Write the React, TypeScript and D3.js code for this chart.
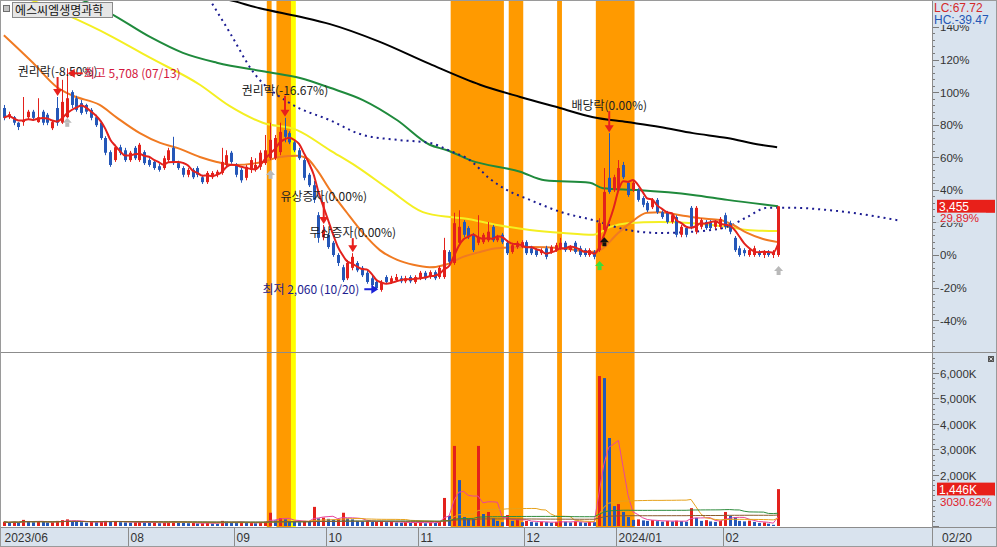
import React from 'react';
import * as d3 from 'd3';

const stockName = '에스씨엠생명과학';
const basePrice = 2660;
const lcValue = 67.72;
const hcValue = -39.47;
const highDate = '07/13';
const lowDate = '10/20';
const lastDate = '02/20';

// daily candles [open, high, low, close], 2023/06/26 .. 2024/02/20
const ohlc: [number, number, number, number][] = [
  [5060, 5110, 4860, 4900], [4910, 5000, 4880, 4960], [4910, 4930, 4780, 4820], [4820, 4830, 4700, 4750],
  [4830, 5240, 4770, 4860], [4910, 5030, 4880, 5000], [5000, 5030, 4850, 4900], [4830, 5220, 4820, 4910],
  [5000, 5030, 4780, 4820], [4950, 4980, 4780, 4820], [4730, 4860, 4700, 4830], [5060, 5240, 4770, 4820],
  [4820, 5520, 4800, 5160], [4910, 5708, 4900, 5220], [5320, 5350, 5060, 5110], [5220, 5260, 5000, 5030],
  [5140, 5190, 4950, 4980], [5110, 5130, 4960, 5000], [5030, 5060, 4860, 4900], [4910, 4950, 4750, 4780],
  [4820, 4850, 4540, 4570], [4570, 4600, 4290, 4330], [4340, 4370, 4100, 4130], [4210, 4460, 4180, 4420],
  [4420, 4460, 4290, 4330], [4370, 4410, 4180, 4210], [4210, 4360, 4180, 4330], [4410, 4440, 4210, 4240],
  [4210, 4490, 4180, 4460], [4340, 4370, 4130, 4160], [4210, 4240, 4100, 4130], [4180, 4210, 4050, 4080],
  [4110, 4150, 4020, 4050], [4080, 4280, 4050, 4240], [4210, 4410, 4180, 4370], [4410, 4590, 4130, 4160],
  [4160, 4200, 4050, 4080], [4080, 4110, 3930, 3970], [3970, 4080, 3930, 4050], [4050, 4080, 3900, 3930],
  [4080, 4110, 3930, 3970], [3930, 3970, 3820, 3850], [3850, 4030, 3820, 4000], [3930, 4030, 3900, 4000],
  [3970, 4050, 3930, 4020], [4000, 4410, 3970, 4180], [4130, 4370, 4100, 4290], [4330, 4360, 4150, 4180],
  [4130, 4160, 3930, 3970], [4050, 4080, 3840, 3880], [3920, 4130, 3880, 4100], [4050, 4260, 4000, 4210],
  [4050, 4240, 4020, 4130], [4100, 4370, 4050, 4330], [4160, 4620, 4130, 4370], [4240, 4820, 4210, 4540],
  [4240, 4620, 4210, 4570], [4340, 4820, 4290, 4670], [4700, 4900, 4500, 4590], [4650, 4680, 4470, 4500],
  [4500, 4540, 4340, 4370], [4370, 4410, 4210, 4240], [4210, 4240, 3880, 3920], [3970, 4000, 3770, 3800],
  [3800, 3870, 3510, 3560], [3310, 3360, 2860, 2940], [2950, 3150, 2900, 3070], [2990, 3020, 2760, 2790],
  [2860, 2890, 2630, 2660], [2660, 2690, 2480, 2530], [2460, 2500, 2220, 2250], [2280, 2580, 2250, 2530],
  [2450, 2690, 2410, 2630], [2530, 2560, 2380, 2410], [2450, 2480, 2300, 2330], [2370, 2400, 2190, 2220],
  [2280, 2320, 2140, 2170], [2220, 2250, 2090, 2120], [2090, 2250, 2060, 2220], [2300, 2330, 2190, 2220],
  [2220, 2320, 2190, 2280], [2250, 2350, 2220, 2300], [2280, 2320, 2200, 2230], [2230, 2320, 2200, 2280],
  [2300, 2330, 2200, 2230], [2220, 2330, 2190, 2300], [2280, 2400, 2250, 2370], [2370, 2400, 2250, 2280],
  [2300, 2410, 2270, 2380], [2380, 2410, 2250, 2280], [2300, 2480, 2270, 2450], [2300, 2940, 2270, 2740],
  [2710, 2740, 2510, 2550], [2530, 3350, 2500, 3180], [2860, 3390, 2820, 3120], [3200, 3230, 2950, 2990],
  [3100, 3130, 2920, 2950], [2990, 3020, 2710, 2740], [2860, 3310, 2820, 2950], [2870, 3020, 2840, 2990],
  [2900, 3200, 2870, 3040], [3120, 3150, 2870, 2900], [2900, 2990, 2870, 2950], [2990, 3020, 2840, 2870],
  [2860, 2890, 2660, 2690], [2710, 2860, 2680, 2820], [2790, 2890, 2760, 2860], [2790, 2900, 2770, 2870],
  [2870, 2900, 2660, 2690], [2770, 2810, 2660, 2690], [2740, 2770, 2630, 2660], [2690, 2770, 2660, 2740],
  [2770, 2810, 2590, 2630], [2710, 2820, 2680, 2790], [2740, 2860, 2710, 2820], [2770, 2940, 2740, 2860],
  [2860, 2890, 2710, 2740], [2740, 2820, 2710, 2790], [2860, 2890, 2680, 2710], [2770, 2810, 2630, 2660],
  [2740, 2770, 2630, 2660], [2660, 2770, 2630, 2740], [2710, 2740, 2590, 2630], [2740, 3260, 2710, 3180],
  [3070, 4080, 3040, 3690], [3920, 4650, 3660, 3690], [3720, 3970, 3690, 3930], [3720, 4210, 3690, 4080],
  [4130, 4180, 3900, 3930], [3840, 3870, 3610, 3640], [3720, 3870, 3690, 3840], [3720, 3750, 3530, 3560],
  [3590, 3620, 3440, 3480], [3510, 3540, 3360, 3390], [3440, 3590, 3410, 3560], [3560, 3590, 3330, 3360],
  [3360, 3390, 3250, 3280], [3350, 3380, 3170, 3200], [3200, 3350, 3170, 3310], [3280, 3310, 2950, 2990],
  [2990, 3150, 2950, 3120], [3100, 3130, 2950, 2990], [3430, 3460, 3080, 3120], [3040, 3460, 3000, 3430],
  [3120, 3260, 3080, 3230], [3200, 3230, 3070, 3100], [3200, 3230, 3070, 3100], [3120, 3230, 3080, 3200],
  [3120, 3280, 3080, 3250], [3310, 3350, 3080, 3120], [3180, 3220, 3000, 3040], [2940, 2970, 2710, 2740],
  [2770, 2810, 2630, 2660], [2740, 2770, 2640, 2690], [2660, 2770, 2630, 2740], [2660, 2810, 2630, 2770],
  [2710, 2740, 2630, 2660], [2660, 2740, 2610, 2710], [2710, 2740, 2630, 2660], [2660, 2740, 2610, 2710],
  [2660, 3455, 2630, 3455],
];

// volume, thousand shares
const volumes = [
  160, 130, 170, 140, 240, 180, 150, 190, 160, 140,
  150, 200, 230, 260, 190, 170, 150, 130, 160, 150,
  180, 200, 170, 190, 150, 140, 130, 150, 160, 140,
  120, 130, 110, 140, 150, 180, 140, 120, 110, 120,
  100, 110, 130, 100, 90, 200, 170, 150, 130, 140,
  120, 130, 110, 150, 170, 520, 220, 310, 260, 190,
  170, 150, 200, 180, 750, 300, 330, 280, 250, 270,
  520, 300, 260, 200, 180, 190, 160, 170, 200, 150,
  160, 140, 130, 150, 120, 130, 150, 110, 140, 120,
  180, 1100, 400, 3140, 1800, 350, 300, 280, 3140, 470,
  550, 300, 200, 150, 430, 200, 260, 150, 200, 160,
  140, 170, 150, 130, 160, 200, 170, 140, 180, 150,
  130, 160, 150, 5880, 5800, 3450, 780, 860, 550, 350,
  240, 260, 220, 200, 230, 190, 170, 200, 180, 210,
  190, 170, 700, 320, 200, 230, 180, 160, 200, 550,
  400, 350, 200, 180, 210, 160, 120, 140, 90, 46.189,
  1446,
];

// longer averages: [day index, price]
const ma20Pts: [number, number][] = [
  [0, 6250], [6, 5800], [11, 5400], [14.3, 5260], [19.8, 5110], [23.4, 4900], [28.1, 4650],
  [32.3, 4490], [35.8, 4410], [40.5, 4260], [44, 4180], [47.3, 4130], [53.5, 4180], [57, 4260],
  [60.6, 4280], [62.6, 4240], [64.7, 4050], [67.4, 3720], [70.9, 3350], [74.2, 3020], [77.7, 2740],
  [81.3, 2580], [84.6, 2500], [88, 2460], [91.6, 2510], [94.9, 2630], [98.4, 2710], [101.9, 2770],
  [108.7, 2790], [115.6, 2770], [121.1, 2710], [123.2, 2740], [126.7, 3000], [129.4, 3180],
  [132.9, 3350], [135.6, 3360], [139.8, 3310], [143.9, 3260], [148, 3230], [150.7, 3150],
  [153.6, 3020], [156.9, 2920], [160, 2870],
];
const ma60Pts: [number, number][] = [
  [0, 7000], [13, 6580], [22, 6240], [30, 5890], [40.5, 5440], [46.7, 5090], [53.5, 4820],
  [60.6, 4700], [67.4, 4370], [73, 4100], [79.8, 3720], [86.6, 3360], [92.2, 3280], [94.9, 3260],
  [101.9, 3150], [108.7, 3070], [115.6, 3020], [121.8, 2990], [125.3, 3120], [128.8, 3180],
  [135.6, 3200], [142.4, 3180], [149.5, 3120], [153.6, 3070], [160, 3050],
];
const ma120Pts: [number, number][] = [
  [14, 6900], [21.9, 6610], [30.2, 6220], [37, 5960], [44, 5800], [54.4, 5650], [61.2, 5550],
  [67.4, 5390], [74.2, 5190], [81.3, 4860], [88, 4460], [91.6, 4370], [96.3, 4210], [106.7, 4020],
  [111.8, 3880], [121.1, 3840], [123.8, 3750], [130.9, 3720], [142.4, 3640], [149.5, 3560], [160, 3455],
];
const ma240Pts: [number, number][] = [
  [40, 6950], [47.3, 6810], [52.9, 6690], [61.2, 6550], [67.4, 6430], [77.7, 6140], [88, 5780],
  [98.4, 5440], [106.7, 5240], [114.9, 5060], [121.8, 4910], [128.8, 4830], [135.6, 4750],
  [142.4, 4650], [149.5, 4570], [156.3, 4460], [159.8, 4420],
];
const spanPts: [number, number][] = [
  [40.5, 7100], [42.6, 6824], [46.7, 6290], [51.5, 5650], [59.1, 5140], [67.4, 4860], [74.2, 4620],
  [81.3, 4540], [88, 4490], [92.2, 4360], [96.3, 4210], [100.5, 3900], [104, 3720], [108.7, 3560],
  [115.6, 3350], [121.8, 3230], [128.8, 3070], [135.6, 3020], [142.4, 3040], [149.5, 3120],
  [153.6, 3280], [157.7, 3430], [163.1, 3430], [170.8, 3390], [177, 3330], [185.2, 3220],
];

// highlighted day ranges
const bandRanges: [number, number][] = [[54, 54], [56, 58], [59, 59], [92, 102], [104, 106], [114, 114], [122, 129]];
const bandColors = ['#ff9a00', '#ff9a00', '#ffff00', '#ff9a00', '#ff9a00', '#ff9a00', '#ff9a00'];

const monthIdx = [0, 26, 48, 67, 86, 108, 127, 149];
const monthLabels = ['2023/06', '08', '09', '10', '11', '12', '2024/01', '02'];

const pctTicks = [-40, -20, 0, 20, 40, 60, 80, 100, 120, 140];
const volTicks = [2000, 3000, 4000, 5000, 6000];

const eventIdx = [11, 58, 66, 72, 125];
const eventLabels = ['권리락(-8.50%)', '권리락(-16.67%)', '유상증자(0.00%)', '무상증자(0.00%)', '배당락(0.00%)'];
const eventLift = [20, 22, 23, 15, 22];

const signalIdx = [13, 55, 123, 124, 160];
const signalPrices = [4900, 4050, 2560, 2950, 2480];
const signalColors = ['#b9b9b9', '#b9b9b9', '#39e039', '#111111', '#b9b9b9'];

const W = 997;
const H = 547;
const AX = 932;
const P_BOT = 352;
const V_TOP = 353;
const V_BOT = 527;
const RED = '#e3211c';
const BLUE = '#2557b8';
const AXIS_BG = '#d9e3ee';
const KR = '"Noto Sans CJK KR", "Noto Sans", sans-serif';
const NUM = '"Liberation Sans", Arial, sans-serif';

const movingAvg = (arr: number[], n: number) =>
  arr.map((_, i) => d3.mean(arr.slice(Math.max(0, i - n + 1), i + 1)) as number);

export default function App() {
  const x = d3.scaleLinear().domain([-0.8, 191.6]).range([0, AX - 1]);
  const bw = x(1) - x(0);
  const yP = d3.scaleLinear().domain([1076, 6824]).range([P_BOT, 0]);
  const yV = d3.scaleLinear().domain([0, 6784]).range([V_BOT - 1, V_TOP]);
  const fmt = d3.format(',');
  const px = (i: number) => Math.round(x(i));
  const pctPrice = (p: number) => basePrice * (1 + p / 100);

  const closes = ohlc.map((d) => d[3]);
  const ma5 = movingAvg(closes, 5);
  const vma = [5, 20, 60, 120].map((n) => movingAvg(volumes, n));
  const vmaColors = ['#e8449c', '#e6a21c', '#2f8c3e', '#8a5a2c'];

  const ptsLine = d3
    .line<[number, number]>()
    .x((d) => x(d[0]))
    .y((d) => yP(d[1]))
    .curve(d3.curveMonotoneX);
  const closeLine = d3
    .line<number>()
    .x((_, i) => x(i))
    .y((d) => yP(d))
    .curve(d3.curveMonotoneX);
  const volLine = d3
    .line<number>()
    .x((_, i) => x(i))
    .y((d) => yV(d));

  const last = ohlc.length - 1;
  const lastClose = closes[last];
  const lastVol = volumes[last];
  const volChange = (lastVol / volumes[last - 1] - 1) * 100;

  const hiIdx = d3.maxIndex(ohlc, (d) => d[1]);
  const loIdx = d3.minIndex(ohlc, (d) => d[2]);
  const hiVal = ohlc[hiIdx][1];
  const loVal = ohlc[loIdx][2];
  const hx = x(hiIdx) + 1;
  const hy = yP(hiVal) + 5;
  const lx = x(loIdx) - 3;
  const ly = yP(loVal) - 2.5;

  return (
    <>
      <style>{'body{margin:0;background:#fff}'}</style>
      <svg width={W} height={H} style={{ display: 'block' }}>
        <defs>
          <clipPath id="pclip">
            <rect x={0} y={0} width={AX} height={P_BOT} />
          </clipPath>
          <clipPath id="vclip">
            <rect x={0} y={V_TOP} width={AX} height={V_BOT - V_TOP} />
          </clipPath>
        </defs>
        <rect x={0} y={0} width={W} height={H} fill="#fff" />

        {/* signal bands */}
        {bandRanges.map(([a, b], k) => (
          <rect
            key={k}
            x={x(a) + bw / 3}
            y={0}
            width={x(b + 1) - x(a)}
            height={V_BOT}
            fill={bandColors[k]}
          />
        ))}

        {/* price panel */}
        <g clipPath="url(#pclip)">
          <path d={ptsLine(ma240Pts) ?? ''} fill="none" stroke="#000" strokeWidth={2} />
          <path d={ptsLine(ma120Pts) ?? ''} fill="none" stroke="#1f8a3c" strokeWidth={2} />
          <path d={ptsLine(ma60Pts) ?? ''} fill="none" stroke="#f4ef22" strokeWidth={2} />
          <path
            d={ptsLine(spanPts) ?? ''}
            fill="none"
            stroke="#1c1c92"
            strokeWidth={2}
            strokeDasharray="2 4"
          />
          <path d={ptsLine(ma20Pts) ?? ''} fill="none" stroke="#f07a22" strokeWidth={2} />

          {ohlc.map(([o, h, l, c], i) => {
            const col = c >= o ? RED : BLUE;
            const cx = px(i);
            const top = yP(Math.max(o, c));
            const bh = Math.max(1, Math.abs(yP(o) - yP(c)));
            return (
              <g key={i}>
                <line x1={cx + 0.5} x2={cx + 0.5} y1={yP(h)} y2={yP(l)} stroke={col} strokeWidth={1} />
                <rect x={cx - 1} y={top} width={3} height={bh} fill={col} />
              </g>
            );
          })}

          <path d={closeLine(ma5) ?? ''} fill="none" stroke="#e3211c" strokeWidth={2} />

          {/* corporate events */}
          {eventIdx.map((i, k) => {
            const ex = x(i) + 0.5;
            const tip = yP(ohlc[i][1]) - 1;
            const base = tip - eventLift[k];
            return (
              <g key={k}>
                <text x={ex} y={base} textAnchor="middle" fontFamily={KR} fontSize={12} fill="#222">
                  {eventLabels[k]}
                </text>
                <line x1={ex} x2={ex} y1={base + 1} y2={tip - 6} stroke="#e8201c" strokeWidth={2} />
                <polygon
                  points={`${ex - 4.5},${tip - 7} ${ex + 4.5},${tip - 7} ${ex},${tip}`}
                  fill="#e8201c"
                />
              </g>
            );
          })}

          {/* high / low marks */}
          <polygon points={`${hx},${hy} ${hx + 7},${hy - 4.5} ${hx + 7},${hy + 4.5}`} fill="#e8201c" />
          <line x1={hx + 6} x2={hx + 15} y1={hy} y2={hy} stroke="#e8201c" strokeWidth={2} />
          <text x={hx + 16} y={hy + 5} fontFamily={KR} fontSize={12} fill="#d3173d">
            {`최고 ${fmt(hiVal)} (${highDate})`}
          </text>

          <polygon points={`${lx},${ly} ${lx - 7},${ly - 4.5} ${lx - 7},${ly + 4.5}`} fill="#1a22d8" />
          <line x1={lx - 14} x2={lx - 6} y1={ly} y2={ly} stroke="#1a22d8" strokeWidth={2} />
          <text x={lx - 19} y={ly + 5} textAnchor="end" fontFamily={KR} fontSize={12} fill="#1e1e90">
            {`최저 ${fmt(loVal)} (${lowDate})`}
          </text>

          {signalIdx.map((i, k) => {
            const sx = x(i) + 0.5;
            const t = yP(signalPrices[k]);
            return (
              <g key={k} fill={signalColors[k]}>
                <polygon points={`${sx},${t} ${sx - 4.5},${t + 5} ${sx + 4.5},${t + 5}`} />
                <rect x={sx - 2} y={t + 5} width={4} height={4} />
              </g>
            );
          })}
        </g>

        {/* volume panel */}
        <g clipPath="url(#vclip)">
          {volumes.map((v, i) => {
            const col = i === 0 || v >= volumes[i - 1] ? RED : BLUE;
            const top = yV(v);
            return (
              <rect
                key={i}
                x={px(i) - 1}
                y={top}
                width={3}
                height={Math.max(1, V_BOT - 1 - top)}
                fill={col}
              />
            );
          })}
          {vma.map((m, k) => (
            <path key={k} d={volLine(m) ?? ''} fill="none" stroke={vmaColors[k]} strokeWidth={1} />
          ))}
        </g>

        {/* right axis */}
        <rect x={AX} y={0} width={W - AX} height={V_BOT} fill={AXIS_BG} />
        {d3.range(-56, 156, 4).map((p) => {
          const yy = Math.round(yP(pctPrice(p))) + 0.5;
          const major = p % 20 === 0;
          return (
            <line key={p} x1={AX} x2={AX + (major ? 7 : 3)} y1={yy} y2={yy} stroke="#7a7a7a" />
          );
        })}
        {pctTicks.map((p) => (
          <text
            key={p}
            x={AX + 8}
            y={yP(pctPrice(p)) + 4.5}
            fontFamily={NUM}
            fontSize={11.5}
            fill="#333"
          >
            {`${p}%`}
          </text>
        ))}
        {d3.range(0, 6800, 200).map((v) => {
          const yy = Math.round(yV(v)) + 0.5;
          const major = v % 1000 === 0;
          return (
            <line key={v} x1={AX} x2={AX + (major ? 7 : 3)} y1={yy} y2={yy} stroke="#7a7a7a" />
          );
        })}
        {volTicks.map((v) => (
          <text key={v} x={AX + 8} y={yV(v) + 5} fontFamily={NUM} fontSize={11.5} fill="#333">
            {`${fmt(v)}K`}
          </text>
        ))}

        {/* current value tags */}
        <rect x={AX + 1} y={0} width={W - AX - 1} height={25} fill={AXIS_BG} />
        <text x={AX + 2} y={12} fontFamily={NUM} fontSize={12} fill="#d42a2a">
          {`LC:${lcValue.toFixed(2)}`}
        </text>
        <text x={AX + 2} y={24} fontFamily={NUM} fontSize={12} fill="#2456b4">
          {`HC:${hcValue.toFixed(2)}`}
        </text>

        <rect x={AX + 5} y={yP(lastClose) - 6.5} width={58} height={13} fill="#e8201a" />
        <text x={AX + 7} y={yP(lastClose) + 4.5} fontFamily={NUM} fontSize={12} fill="#fff">
          {fmt(lastClose)}
        </text>
        <rect x={AX + 4} y={yP(lastClose) + 6.5} width={50} height={10} fill={AXIS_BG} />
        <text x={AX + 8} y={yP(lastClose) + 16} fontFamily={NUM} fontSize={11.5} fill="#e0202a">
          {`${((lastClose / basePrice - 1) * 100).toFixed(2)}%`}
        </text>

        <rect x={AX + 5} y={yV(lastVol) - 6.5} width={58} height={13} fill="#e8201a" />
        <text x={AX + 7} y={yV(lastVol) + 4.5} fontFamily={NUM} fontSize={12} fill="#fff">
          {`${fmt(lastVol)}K`}
        </text>
        <rect x={AX + 4} y={yV(lastVol) + 6.5} width={58} height={11} fill={AXIS_BG} />
        <text x={AX + 8} y={yV(lastVol) + 17} fontFamily={NUM} fontSize={11.5} fill="#e0202a">
          {`${volChange.toFixed(2)}%`}
        </text>
        <rect x={988} y={356} width={6} height={6} fill="#555" />
        <path d="M989.5,357.5 L992.5,360.5 M992.5,357.5 L989.5,360.5" stroke="#fff" strokeWidth={0.8} />

        <line x1={0} x2={W} y1={P_BOT + 0.5} y2={P_BOT + 0.5} stroke="#8c8c8c" />

        {/* date axis */}
        <rect x={0} y={V_BOT} width={W} height={H - V_BOT} fill={AXIS_BG} />
        <line x1={0} x2={W} y1={V_BOT + 0.5} y2={V_BOT + 0.5} stroke="#8c8c8c" />
        {monthIdx.map((i, k) => {
          const tx = Math.round(x(i) - bw * 0.45) + 0.5;
          return (
            <g key={k}>
              {k > 0 && <line x1={tx} x2={tx} y1={V_BOT} y2={H} stroke="#8c8c8c" />}
              <text x={tx + 2} y={542} fontFamily={NUM} fontSize={12} fill="#333">
                {monthLabels[k]}
              </text>
            </g>
          );
        })}
        <text x={AX + 10} y={542} fontFamily={NUM} fontSize={12} fill="#333">
          {lastDate}
        </text>
        <line x1={AX + 0.5} x2={AX + 0.5} y1={0} y2={H} stroke="#8c8c8c" />

        {/* title */}
        <rect x={3.5} y={5.5} width={6} height={6} fill="#c4c4c4" stroke="#6e6e6e" />
        <rect x={12.5} y={2.5} width={100} height={15} fill="#e6e6e6" stroke="#8a8a8a" />
        <text x={15} y={14.5} fontFamily={KR} fontSize={12} fill="#111">
          {stockName}
        </text>

        <rect x={0.5} y={0.5} width={W - 1} height={H - 1} fill="none" stroke="#9a9a9a" />
      </svg>
    </>
  );
}
